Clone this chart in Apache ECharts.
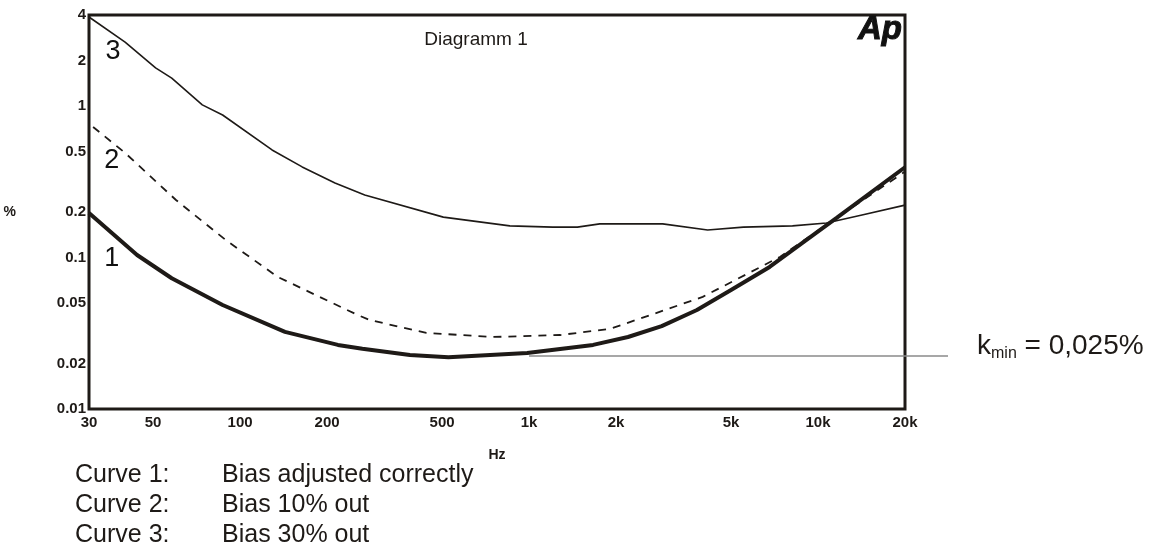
<!DOCTYPE html>
<html><head><meta charset="utf-8">
<script src="https://cdn.jsdelivr.net/npm/echarts@6/dist/echarts.min.js"></script>
<style>html,body{margin:0;padding:0;background:#fff}#c{width:1163px;height:547px}</style>
</head><body><div id="c"></div>
<script>
// ---- data ----
const xTickValues = [30, 50, 100, 200, 500, 1000, 2000, 5000, 10000, 20000];
const xTickLabels = ['30', '50', '100', '200', '500', '1k', '2k', '5k', '10k', '20k'];
const yTickValues = [0.01, 0.02, 0.05, 0.1, 0.2, 0.5, 1, 2, 4];
const yTickLabels = ['0.01', '0.02', '0.05', '0.1', '0.2', '0.5', '1', '2', '4'];

const curve1Freq = [30, 44, 58, 87, 143, 218, 265, 387, 526, 985, 1666, 2200, 2877, 3810, 5000, 6800, 8830, 11600, 20000];
const curve1Pct  = [0.197, 0.104, 0.073, 0.0486, 0.0323, 0.0265, 0.025, 0.0227, 0.022, 0.0234, 0.0265, 0.0299, 0.0353, 0.0451, 0.061, 0.0867, 0.125, 0.183, 0.395];

const curve2Freq = [31, 40, 60, 89, 135, 255, 281, 441, 750, 1281, 1902, 2418, 3990, 7380, 11600, 20000];
const curve2Pct  = [0.729, 0.491, 0.240, 0.131, 0.0745, 0.0418, 0.0387, 0.0318, 0.0299, 0.0308, 0.0338, 0.0395, 0.055, 0.101, 0.183, 0.37];

const curve3Freq = [30, 40, 51, 58, 74, 87, 129, 164, 213, 270, 505, 858, 1208, 1470, 1757, 2418, 2900, 4150, 5520, 8160, 10700, 14200, 20000];
const curve3Pct  = [3.88, 2.65, 1.79, 1.53, 1.02, 0.874, 0.514, 0.397, 0.311, 0.259, 0.185, 0.162, 0.159, 0.159, 0.167, 0.167, 0.167, 0.152, 0.159, 0.162, 0.169, 0.191, 0.222];

const curveLabelNames = ['1', '2', '3'];
const curveLabelFreq  = [36, 36, 36.3];
const curveLabelPct   = [0.099, 0.44, 2.28];

const kminLevel = 0.0224;
const kminFromFreq = 1000;
const kminText = ['k', 'min', ' = 0,025%'];

const legendCurves = ['Curve 1:', 'Curve 2:', 'Curve 3:'];
const legendTexts  = ['Bias adjusted correctly', 'Bias 10% out', 'Bias 30% out'];
const titleText = 'Diagramm 1';

// ---- chart ----
const FONT = '"Liberation Sans", Arial, sans-serif';
const INK = '#1e1a17';
function zip(a, b) { return a.map((v, i) => [v, b[i]]); }
function nearestLabel(vals, labels, v) {
  let best = 0, bd = Infinity;
  vals.forEach((t, i) => { const d = Math.abs(Math.log(t) - Math.log(v)); if (d < bd) { bd = d; best = i; } });
  return labels[best];
}

const chart = echarts.init(document.getElementById('c'), null, { renderer: 'canvas' });
const option = {
  animation: false,
  backgroundColor: '#fff',
  grid: { left: 89, right: 258, top: 15, bottom: 138, show: true, borderWidth: 3, borderColor: INK, containLabel: false },
  xAxis: {
    type: 'log', logBase: 10, min: 30, max: 20000,
    name: 'Hz', nameLocation: 'middle', nameGap: 39,
    nameTextStyle: { fontFamily: FONT, fontWeight: 'bold', fontSize: 14, color: INK },
    axisLine: { show: false }, axisTick: { show: false }, splitLine: { show: false }, minorSplitLine: { show: false },
    axisLabel: {
      customValues: xTickValues, margin: 6, fontFamily: FONT, fontWeight: 'bold', fontSize: 15, color: INK,
      showMinLabel: true, showMaxLabel: true, hideOverlap: false,
      formatter: v => nearestLabel(xTickValues, xTickLabels, v)
    }
  },
  yAxis: {
    type: 'log', logBase: 10, min: 0.01, max: 4,
    name: '%', nameLocation: 'middle', nameGap: 73, nameRotate: 0,
    nameTextStyle: { fontFamily: FONT, fontWeight: 'bold', fontSize: 14, color: INK },
    axisLine: { show: false }, axisTick: { show: false }, splitLine: { show: false }, minorSplitLine: { show: false },
    axisLabel: {
      customValues: yTickValues, margin: 3, fontFamily: FONT, fontWeight: 'bold', fontSize: 15, color: INK,
      showMinLabel: true, showMaxLabel: true, hideOverlap: false,
      formatter: v => nearestLabel(yTickValues, yTickLabels, v)
    }
  },
  series: [
    { name: 'Curve 3', type: 'line', data: zip(curve3Freq, curve3Pct), symbol: 'none', smooth: false,
      lineStyle: { color: INK, width: 1.6 }, z: 3 },
    { name: 'Curve 2', type: 'line', data: zip(curve2Freq, curve2Pct), symbol: 'none', smooth: false,
      lineStyle: { color: INK, width: 1.8, type: [8, 7] }, z: 3 },
    { name: 'Curve 1', type: 'line', data: zip(curve1Freq, curve1Pct), symbol: 'none', smooth: false,
      lineStyle: { color: INK, width: 4 }, z: 4 },
    { name: 'labels', type: 'scatter', symbolSize: 0, silent: true,
      itemStyle: { opacity: 1, color: INK },
      data: curveLabelNames.map((n, i) => ({ value: [curveLabelFreq[i], curveLabelPct[i]], name: n })),
      label: { show: true, position: 'inside', formatter: p => p.name, fontFamily: FONT, fontSize: 27,
               color: '#111', opacity: 1, textBorderWidth: 0 }, z: 5 }
  ]
};
chart.setOption(option);

const pStart = chart.convertToPixel({ gridIndex: 0 }, [kminFromFreq, kminLevel]);
const pEnd = chart.convertToPixel({ gridIndex: 0 }, [20000, kminLevel]);
const graphics = [
  { type: 'line', shape: { x1: pStart[0], y1: pStart[1], x2: pEnd[0] + 43, y2: pStart[1] },
    style: { stroke: '#8a8a8a', lineWidth: 1.5 }, z: 2, silent: true },
  { type: 'text', x: pEnd[0] + 72, y: pStart[1] - 26,
    style: {
      text: '{k|' + kminText[0] + '}{s|' + kminText[1] + '}{e|' + kminText[2] + '}',
      verticalAlign: 'top', align: 'left',
      rich: {
        k: { fontFamily: FONT, fontSize: 28, lineHeight: 32, fill: INK },
        s: { fontFamily: FONT, fontSize: 16, lineHeight: 12, verticalAlign: 'bottom', fill: INK },
        e: { fontFamily: FONT, fontSize: 28, lineHeight: 32, fill: INK }
      }
    }, z: 10 },
  { type: 'text', x: 476, y: 40,
    style: { text: titleText, font: '19px ' + FONT, fill: INK, align: 'center', verticalAlign: 'middle' }, z: 10 },
  { type: 'text', x: pEnd[0] - 3, y: 13,
    style: { text: 'Ap', font: 'italic 900 33px ' + FONT, fill: '#111', stroke: '#111', lineWidth: 1, align: 'right', verticalAlign: 'top' }, z: 10 }
];
legendCurves.forEach((c, i) => {
  graphics.push({ type: 'text', x: 75, y: 475 + i * 30,
    style: { text: c, font: '25px ' + FONT, fill: INK, align: 'left', verticalAlign: 'middle' } });
  graphics.push({ type: 'text', x: 222, y: 475 + i * 30,
    style: { text: legendTexts[i], font: '25px ' + FONT, fill: INK, align: 'left', verticalAlign: 'middle' } });
});
chart.setOption({ graphic: graphics });
</script>
</body></html>
